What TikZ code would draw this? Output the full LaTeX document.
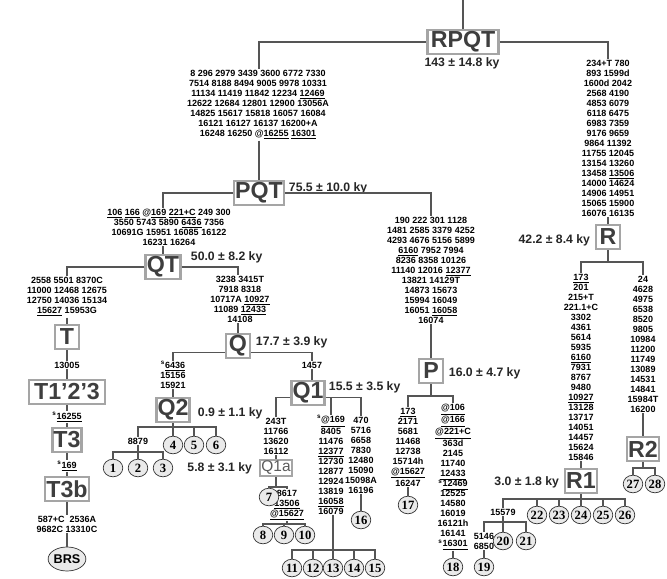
\documentclass[tikz,border=0pt]{standalone}
\usepackage{fontspec}
\setmainfont{Liberation Sans}
\newfontfamily\numfont{Liberation Serif}
\usepackage{xcolor}
\usepackage{tikz}
\usetikzlibrary{shapes.geometric}
\definecolor{boxgray}{RGB}{165,165,165}
\definecolor{labgray}{RGB}{62,62,62}
\definecolor{linegray}{RGB}{85,85,85}
\definecolor{hapfill}{RGB}{234,234,234}

\begin{document}
\begin{tikzpicture}[x=0.025cm, y=-0.025cm,
            every node/.append style = {inner sep=0.5pt},
            hg/.style = {draw=boxgray, line width=1.8pt, text=labgray, font=\fontsize{16.5}{17}\selectfont\bfseries,
                minimum width=0.61cm, minimum height=0.61cm, inner xsep=0.03cm},
            subhg/.style = {draw=boxgray, line width=1.5pt, text=labgray!85, font=\fontsize{11}{12}\selectfont,
                minimum width=0.82cm, minimum height=0.4cm, inner sep=0pt},
            mut/.style = {align=center, font=\fontsize{6.4}{7.11}\selectfont\bfseries},
            age/.style = {font=\fontsize{8.7}{10}\selectfont\bfseries, text=black!85},
            hap/.style = {ellipse, draw=black!80, fill=hapfill, line width=0.5pt, minimum width=0.49cm,
                minimum height=0.44cm, inner sep=0pt, font=\numfont\fontsize{9}{9}\selectfont\bfseries},
            link/.style = {draw=linegray, line width=0.8pt}]
        \useasboundingbox (0,0) rectangle (667,579);

        \node[hg, minimum width=1.78cm] (nrpqt) at (463,42) {RPQT};
        \node[hg] (npqt) at (259,193) {PQT};
        \node[hg] (nqt) at (163,267) {QT};
        \node[hg] (nt) at (67,337) {T};
        \node[hg, minimum width=1.91cm] (nt123) at (67,392) {T1’2’3};
        \node[hg] (nt3) at (67,440) {T3};
        \node[hg] (nt3b) at (67,489) {T3b};
        \node[hg] (nq) at (238,346) {Q};
        \node[hg] (nq2) at (173,410) {Q2};
        \node[hg] (nq1) at (308,393) {Q1};
        \node[subhg] (nq1a) at (276,468) {Q1a};
        \node[hg] (np) at (431,371) {P};
        \node[hg] (nr) at (608,237) {R};
        \node[hg] (nr1) at (581,481) {R1};
        \node[hg] (nr2) at (643,449) {R2};

        \node[age] (arpqt) at (462,63) {143 ± 14.8 ky};
        \node[age, anchor=west] (apqt) at (288,188) {75.5 ± 10.0 ky};
        \node[age, anchor=west] (aqt) at (190,257) {50.0 ± 8.2 ky};
        \node[age, anchor=west] (aq) at (255,342) {17.7 ± 3.9 ky};
        \node[age, anchor=west] (aq2) at (197,413) {0.9 ± 1.1 ky};
        \node[age, anchor=west] (aq1) at (328,387) {15.5 ± 3.5 ky};
        \node[age, anchor=east] (aq1a) at (253,468) {5.8 ± 3.1 ky};
        \node[age, anchor=west] (ap) at (448,373) {16.0 ± 4.7 ky};
        \node[age, anchor=east] (ar) at (591,240) {42.2 ± 8.4 ky};
        \node[age, anchor=east] (ar1) at (560,482) {3.0 ± 1.8 ky};

        \node[mut] (mrpqtl) at (258,105) {8 296 2979 3439 3600 6772 7330\\7514 8188 8494 9005 9978 10331\\11134 11419 11842 12234 \underline{12469}\\12622 12684 12801 12900 13056A\\14825 15617 15818 16057 16084\\16121 16127 16137 16200+A\\16248 16250 @\underline{16255} \underline{16301}};
        \node[mut] (mrpqtr) at (608,138) {234+T 780\\893 1599d\\1600d 2042\\2568 4190\\4853 6079\\6118 6475\\6983 7359\\9176 9659\\9864 11392\\11755 12045\\13154 13260\\13458 \underline{13506}\\14000 14624\\14906 14951\\15065 15900\\16076 16135};
        \node[mut] (mpqtl) at (169,227) {\underline{106} \underline{166} @\underline{169} \underline{221+C} 249 300\\3550 5743 5890 \underline{6436} 7356\\10691G 15951 16085 16122\\16231 16264};
        \node[mut] (mpqtr) at (431,270) {190 222 301 1128\\1481 2585 3379 4252\\4293 4676 5156 5899\\\underline{6160} 7952 7994\\8236 8358 10126\\11140 12016 \underline{12377}\\13821 14129T\\14873 15673\\15994 16049\\16051 \underline{16058}\\16074};
        \node[mut] (mqtl) at (67,297) {2558 5501 8370C\\11000 12468 12675\\12750 14036 15134\\\underline{15627} 15953G};
        \node[mut] (mqtr) at (240,299) {3238 3415T\\7918 8318\\10717A \underline{10927}\\11089 \underline{12433}\\14108};
        \node[mut] (mt) at (67,365) {13005};
        \node[mut] (mt123) at (67,417) {\textsuperscript{s}\underline{16255}};
        \node[mut] (mt3) at (67,466) {\textsuperscript{s}\underline{169}};
        \node[mut] (mt3b) at (67,524) {587+C\ \ 2536A\\9682C 13310C};
        \node[mut] (mql) at (173,375) {\textsuperscript{s}\underline{6436}\\15156\\15921};
        \node[mut] (mqr) at (312,365) {1457};
        \node[mut] (mq2) at (138,441) {8879};
        \node[mut] (mq1l) at (276,436) {243T\\11766\\13620\\16112};
        \node[mut] (mq1m) at (331,465) {\textsuperscript{s}\underline{@169}\\8405\\11476\\\underline{12377}\\12730\\12877\\12924\\13819\\\underline{16058}\\16079};
        \node[mut] (mq1r) at (361,455) {470\\5716\\6658\\7830\\12480\\15090\\15098A\\16196};
        \node[mut] (mq1a) at (287,505) {8617\\\underline{13506}\\\underline{@15627}};
        \node[mut] (mpl) at (408,447) {\underline{173}\\2171\\5681\\11468\\12738\\15714h\\\underline{@15627}\\16247};
        \node[mut] (mpr) at (453,477) {\underline{@106}\\\underline{@166}\\\underline{@221+C}\\363d\\2145\\11740\\\underline{12433}\\\textsuperscript{s}\underline{12469}\\12525\\14580\\16019\\16121h\\16141\\\textsuperscript{s}\underline{16301}};
        \node[mut] (mrl) at (581,367) {\underline{173}\\201\\215+T\\221.1+C\\3302\\4361\\5614\\5935\\\underline{6160}\\7931\\8767\\9480\\\underline{10927}\\13128\\13717\\14051\\14457\\15624\\15846};
        \node[mut] (mrr) at (643,344) {24\\4628\\4975\\6538\\8520\\9805\\10984\\11200\\11749\\13089\\14531\\14841\\15984T\\16200};
        \node[mut] (mr1) at (503,512) {15579};
        \node[mut] (mr1b) at (484,541) {5146\\6850};

        \node[hap] (n1) at (113,468) {1};
        \node[hap] (n2) at (138,468) {2};
        \node[hap] (n3) at (163,468) {3};
        \node[hap] (n4) at (173,445) {4};
        \node[hap] (n5) at (194,445) {5};
        \node[hap] (n6) at (216,445) {6};
        \node[hap] (n7) at (269,497) {7};
        \node[hap] (n8) at (263,535) {8};
        \node[hap] (n9) at (284,535) {9};
        \node[hap] (n10) at (305,535) {10};
        \node[hap] (n11) at (292,568) {11};
        \node[hap] (n12) at (313,568) {12};
        \node[hap] (n13) at (333,568) {13};
        \node[hap] (n14) at (354,568) {14};
        \node[hap] (n15) at (375,568) {15};
        \node[hap] (n16) at (361,520) {16};
        \node[hap] (n17) at (408,505) {17};
        \node[hap] (n18) at (453,567) {18};
        \node[hap] (n19) at (484,567) {19};
        \node[hap] (n20) at (503,541) {20};
        \node[hap] (n21) at (526,541) {21};
        \node[hap] (n22) at (537,515) {22};
        \node[hap] (n23) at (559,515) {23};
        \node[hap] (n24) at (581,515) {24};
        \node[hap] (n25) at (603,515) {25};
        \node[hap] (n26) at (625,515) {26};
        \node[hap] (n27) at (633,484) {27};
        \node[hap] (n28) at (655,484) {28};
        \node[hap, minimum width=0.8cm, minimum height=0.6cm, font=\fontsize{9}{10}\selectfont\bfseries] (nbrs) at (67,559) {BRS};

        \coordinate (ntop) at (463,0);
        \draw[link] (ntop) -- (nrpqt.north);
        \draw[link] (nrpqt.west) -| (npqt.north |- mrpqtl.north);
        \draw[link] (nrpqt.east) -| (mrpqtr.north);
        \draw[link] (mrpqtl.south -| npqt.north) -- (npqt.north);
        \draw[link] (mrpqtr.south) -- (nr.north);
        \draw[link] (npqt.west) -| (nqt.north |- mpqtl.north);
        \draw[link] (npqt.east) -| (mpqtr.north);
        \draw[link] (mpqtl.south -| nqt.north) -- (nqt.north);
        \draw[link] (mpqtr.south) -- (np.north);
        \draw[link] (nqt.west) -| (mqtl.north);
        \draw[link] (nqt.east) -| (nq.north |- mqtr.north);
        \draw[link] (mqtr.south -| nq.north) -- (nq.north);
        \draw[link] (mqtl.south) -- (nt.north);
        \draw[link] (nt.south) -- (mt.north);
        \draw[link] (mt.south) -- (nt123.north);
        \draw[link] (nt123.south) -- (mt123.north);
        \draw[link] (mt123.south) -- (nt3.north);
        \draw[link] (nt3.south) -- (mt3.north);
        \draw[link] (mt3.south) -- (nt3b.north);
        \draw[link] (nt3b.south) -- (mt3b.north);
        \draw[link] (mt3b.south) -- (nbrs.north);

        \draw[link] (nq.-155) -| (mql.north);
        \draw[link] (nq.-25) -| (mqr.north);
        \draw[link] (mql.south) -- (nq2.north);
        \draw[link] (mqr.south) -- (mqr.south |- nq1.north);
        \coordinate (bq2) at (173,427);
        \draw[link] (nq2.south) -- (bq2);
        \draw[link] (mq2.north) |- (bq2) -| (n6.north);
        \draw[link] (n4.north) -- (n4.north |- bq2);
        \draw[link] (n5.north) -- (n5.north |- bq2);
        \coordinate (b8879) at (138,452);
        \draw[link] (mq2.south) -- (b8879);
        \draw[link] (n1.north) |- (b8879) -| (n3.north);
        \draw[link] (n2.north) -- (b8879);

        \draw[link] (nq1.-165) -| (mq1l.north);
        \draw[link] (nq1.-15) -| (mq1r.north);
        \draw[link] (mq1m.north) -- (mq1m.north |- nq1.-15);
        \draw[link] (mq1l.south) -- (nq1a.north);
        \draw[link] (mq1r.south) -- (n16.north);
        \coordinate (bq1m) at (333,550);
        \draw[link] (mq1m.south -| bq1m) -- (bq1m);
        \draw[link] (n11.north) |- (bq1m) -| (n15.north);
        \draw[link] (n12.north) -- (n12.north |- bq1m);
        \draw[link] (n13.north) -- (n13.north |- bq1m);
        \draw[link] (n14.north) -- (n14.north |- bq1m);
        \coordinate (bq1a) at (276,487);
        \draw[link] (nq1a.south) -- (bq1a);
        \draw[link] (n7.north) |- (bq1a) -| (mq1a.north);
        \coordinate (b8617) at (285,524);
        \draw[link] (mq1a.south) -- (mq1a.south |- b8617);
        \draw[link] (n8.north) |- (b8617) -| (n10.north);
        \draw[link] (n9.north) -- (n9.north |- b8617);

        \coordinate (bp) at (431,396);
        \draw[link] (np.south) -- (bp);
        \draw[link] (mpl.north) |- (bp) -| (mpr.north);
        \draw[link] (mpl.south) -- (n17.north);
        \draw[link] (mpr.south) -- (n18.north);

        \coordinate (br) at (608,262);
        \draw[link] (nr.south) -- (br);
        \draw[link] (mrl.north) |- (br) -| (mrr.north);
        \draw[link] (mrl.south) -- (nr1.north);
        \draw[link] (mrr.south) -- (nr2.north);
        \coordinate (br1) at (581,499);
        \draw[link] (nr1.south) -- (br1);
        \draw[link] (mr1.north) |- (br1) -| (n26.north);
        \draw[link] (n22.north) -- (n22.north |- br1);
        \draw[link] (n23.north) -- (n23.north |- br1);
        \draw[link] (n24.north) -- (n24.north |- br1);
        \draw[link] (n25.north) -- (n25.north |- br1);
        \coordinate (b15579) at (503,522);
        \draw[link] (mr1.south) -- (b15579);
        \draw[link] (mr1b.north) |- (b15579) -| (n21.north);
        \draw[link] (n20.north) -- (n20.north |- b15579);
        \draw[link] (mr1b.south) -- (n19.north);
        \coordinate (br2) at (643,468);
        \draw[link] (nr2.south) -- (br2);
        \draw[link] (n27.north) |- (br2) -| (n28.north);
        \end{tikzpicture}
\end{document}
